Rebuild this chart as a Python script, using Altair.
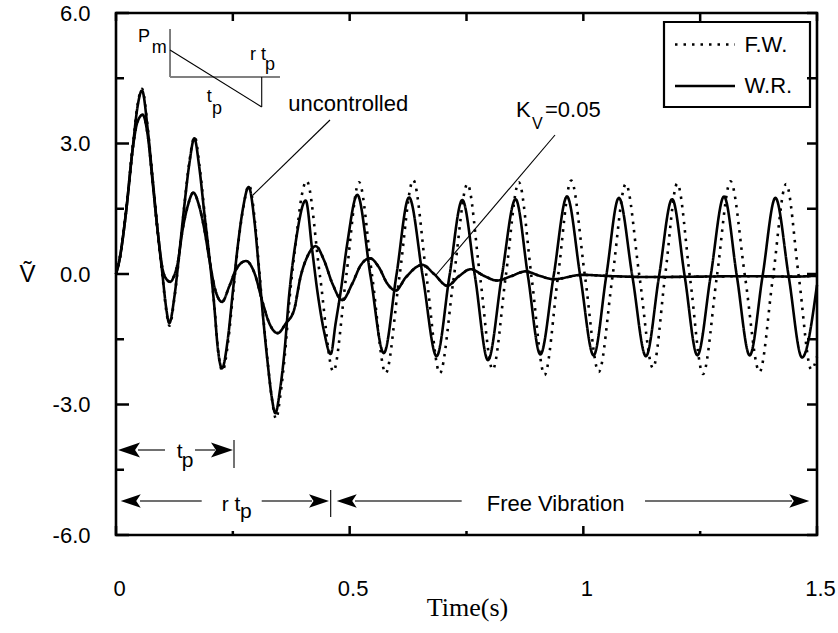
import altair as alt
import pandas as pd

# ---------------- response curves: (time [s], V~) ----------------
# uncontrolled, W.R. model
unc_wr = [
    (0.000, 0.00), (0.007, 0.30), (0.021, 1.38), (0.036, 2.92), (0.046, 3.84),
    (0.0556, 4.22), (0.068, 3.31), (0.0785, 2.16), (0.089, 1.01), (0.0999, -0.06),
    (0.107, -0.75), (0.114, -1.13), (0.125, -0.52), (0.1355, 0.48), (0.146, 1.55),
    (0.157, 2.54), (0.1676, 3.12), (0.178, 2.47), (0.189, 1.40), (0.1997, 0.40),
    (0.2104, -0.75), (0.2175, -1.67), (0.2268, -2.17), (0.239, -1.52), (0.2497, -0.44),
    (0.2604, 0.63), (0.2711, 1.47), (0.2839, 2.00), (0.296, 1.24), (0.3053, 0.17),
    (0.3139, -0.90), (0.3246, -2.05), (0.3331, -2.82), (0.3409, -3.20), (0.3509, -2.67),
    (0.3602, -1.82), (0.3709, -0.44), (0.3852, 0.78), (0.4059, 1.69), (0.420, 0.53),
    (0.4308, -0.39), (0.445, -1.31), (0.4594, -1.84), (0.470, -1.13), (0.481, -0.39),
    (0.495, 0.71), (0.5163, 1.82), (0.5447, -0.05), (0.5730, -1.82), (0.6000, -0.03),
    (0.6270, 1.76), (0.6565, -0.06), (0.6860, -1.89), (0.7135, -0.05), (0.7410, 1.70),
    (0.7685, -0.08), (0.7960, -1.98), (0.8255, -0.05), (0.8550, 1.72), (0.8815, -0.05),
    (0.9080, -1.85), (0.9365, -0.04), (0.9650, 1.78), (0.9935, -0.05), (1.0220, -1.87),
    (1.0490, -0.05), (1.0760, 1.75), (1.1050, -0.06), (1.1340, -1.89), (1.1620, -0.05),
    (1.1900, 1.72), (1.2170, -0.06), (1.2440, -1.87), (1.2725, -0.04), (1.3010, 1.78),
    (1.3285, -0.05), (1.3560, -1.87), (1.3835, -0.05), (1.4110, 1.75), (1.4395, -0.06),
    (1.4680, -1.92), (1.5000, -0.25),
]

# uncontrolled, F.W. model
unc_fw = [
    (0.000, 0.00), (0.007, 0.30), (0.021, 1.40), (0.036, 2.95), (0.046, 3.88),
    (0.0556, 4.26), (0.068, 3.35), (0.0785, 2.18), (0.089, 1.00), (0.0999, -0.10),
    (0.107, -0.80), (0.1145, -1.19), (0.125, -0.55), (0.1355, 0.46), (0.146, 1.55),
    (0.157, 2.58), (0.1685, 3.16), (0.179, 2.45), (0.190, 1.36), (0.2005, 0.35),
    (0.211, -0.80), (0.218, -1.72), (0.2278, -2.23), (0.240, -1.55), (0.2505, -0.45),
    (0.261, 0.64), (0.272, 1.50), (0.2848, 2.04), (0.297, 1.24), (0.306, 0.15),
    (0.3148, -0.95), (0.3255, -2.12), (0.334, -2.90), (0.3425, -3.33), (0.352, -2.76),
    (0.361, -1.90), (0.372, -0.50), (0.386, 0.85), (0.397, 1.78), (0.408, 2.14),
    (0.4365, -0.05), (0.465, -2.24), (0.4925, -0.06), (0.520, 2.11), (0.5485, -0.08),
    (0.577, -2.28), (0.6065, -0.06), (0.636, 2.16), (0.6645, -0.06), (0.693, -2.28),
    (0.7225, -0.10), (0.752, 2.07), (0.779, -0.06), (0.806, -2.20), (0.834, -0.05),
    (0.862, 2.11), (0.8895, -0.10), (0.917, -2.32), (0.9455, -0.08), (0.974, 2.15),
    (1.0035, -0.05), (1.033, -2.25), (1.062, -0.09), (1.091, 2.07), (1.120, -0.05),
    (1.149, -2.16), (1.175, -0.04), (1.201, 2.08), (1.2285, -0.11), (1.256, -2.30),
    (1.2855, -0.08), (1.315, 2.13), (1.346, -0.06), (1.377, -2.25), (1.4055, -0.09),
    (1.434, 2.07), (1.461, -0.06), (1.488, -2.20), (1.500, -1.90),
]

# controlled with K_V = 0.05 (both models practically coincide)
kv_wr = [
    (0.000, 0.00), (0.007, 0.30), (0.021, 1.38), (0.036, 2.90), (0.046, 3.50),
    (0.0571, 3.66), (0.068, 3.18), (0.0785, 2.10), (0.089, 1.00), (0.0999, 0.10),
    (0.108, -0.12), (0.1162, -0.18), (0.124, -0.05), (0.132, 0.25), (0.1427, 1.03),
    (0.1534, 1.56), (0.1655, 1.87), (0.178, 1.56), (0.189, 1.03), (0.1997, 0.34),
    (0.2104, -0.28), (0.2268, -0.64), (0.2425, -0.28), (0.2568, 0.10), (0.2782, 0.30),
    (0.296, 0.03), (0.3139, -0.66), (0.328, -1.13), (0.3459, -1.36), (0.3638, -1.13),
    (0.3809, -0.83), (0.395, -0.06), (0.4094, 0.40), (0.4273, 0.64), (0.445, 0.32),
    (0.463, -0.22), (0.4842, -0.60), (0.5056, -0.22), (0.5236, 0.20), (0.5435, 0.36),
    (0.5628, 0.15), (0.5805, -0.22), (0.5985, -0.38), (0.6199, -0.08), (0.6554, 0.21),
    (0.6805, 0.00), (0.7089, -0.27), (0.734, -0.05), (0.759, 0.11), (0.787, -0.04),
    (0.8153, -0.15), (0.8455, -0.05), (0.8758, 0.06), (0.906, -0.04), (0.9366, -0.12),
    (0.9971, -0.02), (1.0613, -0.05), (1.147, -0.07), (1.25, -0.06), (1.35, -0.05),
    (1.45, -0.06), (1.50, -0.04),
]
kv_fw = list(kv_wr)

series = [
    ("F.W.", "uncontrolled", unc_fw),
    ("W.R.", "uncontrolled", unc_wr),
    ("F.W.", "K_V=0.05", kv_fw),
    ("W.R.", "K_V=0.05", kv_wr),
]

# ---------------- axis ticks ----------------
x_major = [0.0, 0.5, 1.0, 1.5]
x_minor = [0.25, 0.75, 1.25]
y_major = [-6.0, -3.0, 0.0, 3.0, 6.0]
y_minor = [-4.5, -1.5, 1.5, 4.5]

# ---------------- annotations (time / V~ units) ----------------
t_p = 0.2525
rt_p = 0.4594
row1_v = -4.046
row2_v = -5.218

inset_gray = [(0.1156, 5.632, 0.1156, 4.529)]
inset_axis = [(0.1156, 4.529, 0.3509, 4.529)]
thin_black = [
    (0.1156, 5.149, 0.3118, 3.839),   # load ramp
    (0.3118, 4.529, 0.3118, 3.839),
    (0.4579, 3.540, 0.2931, 1.816),   # leader: uncontrolled
    (0.9394, 3.195, 0.6847, -0.023),  # leader: K_V
    (t_p, -3.816, t_p, -4.460),
    (rt_p, -4.966, rt_p, -5.586),
]
arrow_shafts = [
    (0.0471, row1_v, 0.1048, row1_v),
    (0.1690, row1_v, 0.2118, row1_v),
    (0.0514, row2_v, 0.1834, row2_v),
    (0.3118, row2_v, 0.4194, row2_v),
    (0.5114, row2_v, 0.7397, row2_v),
    (1.1320, row2_v, 1.4466, row2_v),
]
heads_left_big = [(0.0043, row1_v)]
heads_right_big = [(0.2503, row1_v)]
heads_left = [(0.0101, row2_v), (0.4723, row2_v)]
heads_right = [(0.4558, row2_v), (1.4835, row2_v)]

small_text = [
    (0.0471, 5.441, "P"), (0.0764, 5.189, "m"),
    (0.2867, 5.034, "r t"), (0.3188, 4.816, "p"),
    (0.1940, 4.069, "t"), (0.2053, 3.790, "p"),
]
row_text = [
    (0.1299, -4.103, "t"), (0.1406, -4.310, "p"),
    (0.2262, -5.299, "r t"), (0.2653, -5.460, "p"),
]
big_text = [
    (0.3688, 3.897, "uncontrolled"),
    (0.8560, 3.760, "K"),
    (0.9180, 3.760, "=0.05"),
    (0.7932, -5.287, "Free Vibration"),
]
sub_text = [(0.8900, 3.450, "V")]

# ---------------- layout ----------------
W, H = 701, 522
FONT = "Liberation Sans"

xs = alt.Scale(domain=[0, 1.5], nice=False, zero=False)
ys = alt.Scale(domain=[-6, 6], nice=False, zero=False)

x_axis = alt.Axis(
    values=x_major, labelExpr="format(datum.value, '~g')",
    labelFont=FONT, labelFontSize=22, labelColor="black",
    labelPadding=53, labelBaseline="middle", labelFlush=False, labelOffset=3,
    domain=False, ticks=False, tickSize=0, grid=False,
    title="Time(s)", titleFont="Liberation Serif", titleFontSize=26,
    titleFontWeight="normal", titleColor="black",
    titleX=351, titleY=72, titleAlign="center", titleBaseline="middle",
)
y_axis = alt.Axis(
    values=y_major,
    labelExpr="(datum.value < 0 ? '-' : '') + format(abs(datum.value), '.1f')",
    labelFont=FONT, labelFontSize=22, labelColor="black", labelPadding=26,
    domain=False, ticks=False, tickSize=0, grid=False,
    title="Ṽ", titleFont=FONT, titleFontSize=24, titleFontWeight="normal",
    titleColor="black", titleAngle=0, titleX=-89, titleY=261,
    titleAlign="center", titleBaseline="middle",
)


def X(field="t"):
    return alt.X(f"{field}:Q", scale=xs, axis=x_axis)


def Y(field="v"):
    return alt.Y(f"{field}:Q", scale=ys, axis=y_axis)


rows = []
for method, case, pts in series:
    for t, v in pts:
        rows.append({"t": t, "v": v, "method": method, "case": case})
curves = pd.DataFrame(rows)

legend = alt.Legend(
    title=None, orient="none", legendX=548, legendY=9, padding=11,
    symbolType="M-3,0H3", symbolSize=400, symbolStrokeColor="black",
    symbolStrokeWidth=2.5, symbolOffset=18.5, labelOffset=28,
    labelFont=FONT, labelFontSize=22, labelColor="black", rowPadding=18.5,
)

lines = alt.Chart(curves).mark_line(
    color="black", strokeWidth=2.6, interpolate="monotone", strokeCap="butt"
).encode(
    x=X(), y=Y(),
    strokeDash=alt.StrokeDash(
        "method:N",
        scale=alt.Scale(domain=["F.W.", "W.R."], range=[[2.5, 6], [1, 0]]),
        legend=legend,
    ),
    detail="case:N",
)

legend_box = alt.Chart(pd.DataFrame({"k": [0]})).mark_rect(
    fill="white", stroke="black", strokeWidth=2.2
).encode(x=alt.value(548), x2=alt.value(694), y=alt.value(9), y2=alt.value(94))


def tick_layer(vals, orient, length):
    if orient in ("bottom", "top"):
        df = pd.DataFrame({"t": vals})
        y0 = H if orient == "bottom" else 0
        y1 = H - length if orient == "bottom" else length
        enc = dict(x=X(), y=alt.value(y0), y2=alt.value(y1))
    else:
        df = pd.DataFrame({"v": vals})
        x0 = 0 if orient == "left" else W
        x1 = length if orient == "left" else W - length
        enc = dict(y=Y(), x=alt.value(x0), x2=alt.value(x1))
    return alt.Chart(df).mark_rule(color="black", strokeWidth=2.5).encode(**enc)


ticks = [
    tick_layer(x_major, "bottom", 9),
    tick_layer(x_minor, "bottom", 4),
    tick_layer(x_major + x_minor, "top", 8),
    tick_layer(y_major, "left", 13),
    tick_layer(y_minor, "left", 8),
    tick_layer(y_major + y_minor, "right", 10),
]


def seg_layer(segs, color, width):
    df = pd.DataFrame(segs, columns=["t", "v", "t2", "v2"])
    return alt.Chart(df).mark_rule(color=color, strokeWidth=width).encode(
        x=X(), y=Y(), x2="t2:Q", y2="v2:Q"
    )


LEFT_HEAD = "M0,0L2,-0.68L1.55,0L2,0.68Z"
RIGHT_HEAD = "M0,0L-2,-0.68L-1.55,0L-2,0.68Z"


def head_layer(pts, shape, size):
    df = pd.DataFrame(pts, columns=["t", "v"])
    return alt.Chart(df).mark_point(
        shape=shape, size=size, filled=True, color="black", opacity=1, strokeWidth=0
    ).encode(x=X(), y=Y())


def text_layer(items, size):
    df = pd.DataFrame(items, columns=["t", "v", "label"])
    return alt.Chart(df).mark_text(
        align="left", baseline="middle", font=FONT, fontSize=size, color="black"
    ).encode(x=X(), y=Y(), text="label:N")


layers = [legend_box] + ticks + [
    seg_layer(inset_gray, "#555555", 1.5),
    seg_layer(inset_axis, "#808080", 2.0),
    seg_layer(thin_black, "black", 1.1),
    seg_layer(arrow_shafts, "#707070", 2.0),
    head_layer(heads_left_big, LEFT_HEAD, 484),
    head_layer(heads_right_big, RIGHT_HEAD, 484),
    head_layer(heads_left, LEFT_HEAD, 400),
    head_layer(heads_right, RIGHT_HEAD, 400),
    lines,
    text_layer(small_text, 18),
    text_layer(row_text, 21),
    text_layer(big_text, 22),
    text_layer(sub_text, 16),
]

chart = alt.layer(*layers).properties(
    width=W, height=H,
    padding={"left": 116, "top": 13, "right": 21, "bottom": 98},
    autosize=alt.AutoSizeParams(type="none"),
    background="white",
).configure_view(stroke="black", strokeWidth=2.6)

chart.save("out.html", embed_options={"renderer": "svg", "actions": False})
